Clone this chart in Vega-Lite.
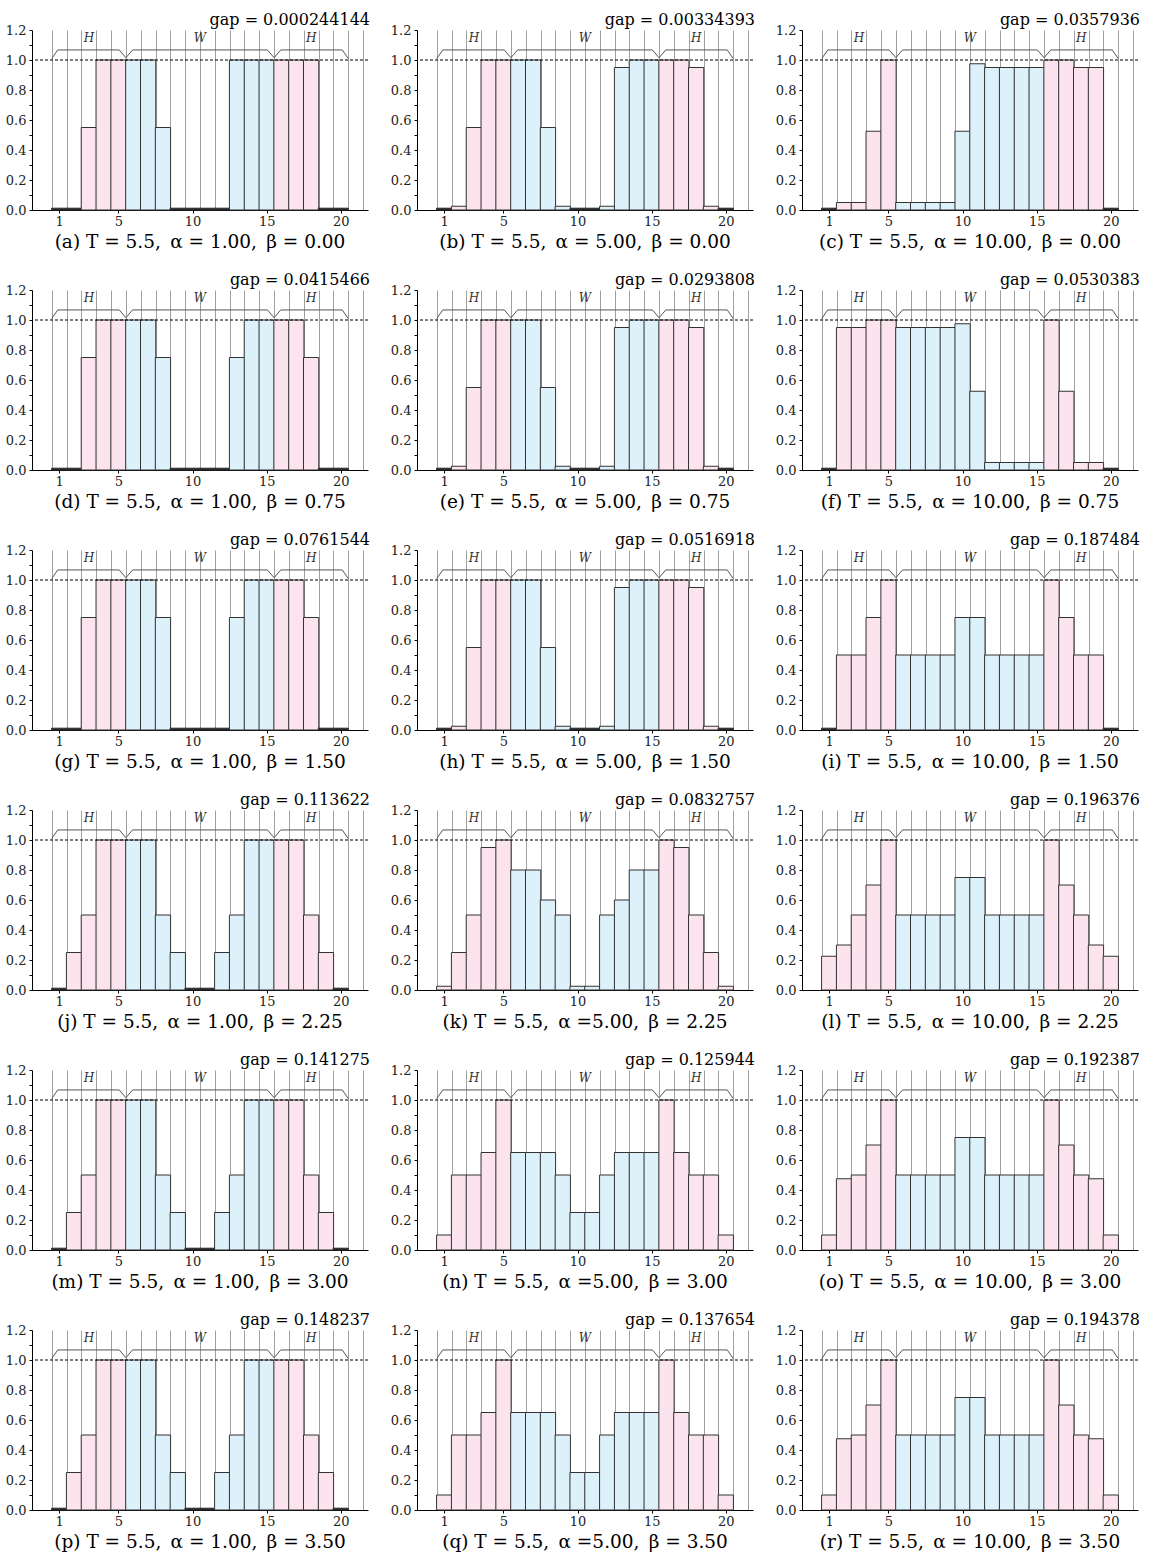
{
"$schema":"https://vega.github.io/schema/vega-lite/v6.json",
"padding":{"left":5,"top":12,"right":5,"bottom":5},
"data":{"values":[
{"p":"a","i":1,"v":0.012},{"p":"a","i":2,"v":0.012},{"p":"a","i":3,"v":0.55},{"p":"a","i":4,"v":1},{"p":"a","i":5,"v":1},{"p":"a","i":6,"v":1},{"p":"a","i":7,"v":1},{"p":"a","i":8,"v":0.55},{"p":"a","i":9,"v":0.012},{"p":"a","i":10,"v":0.012},{"p":"a","i":11,"v":0.012},{"p":"a","i":12,"v":0.012},{"p":"a","i":13,"v":1},{"p":"a","i":14,"v":1},{"p":"a","i":15,"v":1},{"p":"a","i":16,"v":1},{"p":"a","i":17,"v":1},{"p":"a","i":18,"v":1},{"p":"a","i":19,"v":0.012},{"p":"a","i":20,"v":0.012},
{"p":"b","i":1,"v":0.012},{"p":"b","i":2,"v":0.025},{"p":"b","i":3,"v":0.55},{"p":"b","i":4,"v":1},{"p":"b","i":5,"v":1},{"p":"b","i":6,"v":1},{"p":"b","i":7,"v":1},{"p":"b","i":8,"v":0.55},{"p":"b","i":9,"v":0.025},{"p":"b","i":10,"v":0.012},{"p":"b","i":11,"v":0.012},{"p":"b","i":12,"v":0.025},{"p":"b","i":13,"v":0.95},{"p":"b","i":14,"v":1},{"p":"b","i":15,"v":1},{"p":"b","i":16,"v":1},{"p":"b","i":17,"v":1},{"p":"b","i":18,"v":0.95},{"p":"b","i":19,"v":0.025},{"p":"b","i":20,"v":0.012},
{"p":"c","i":1,"v":0.012},{"p":"c","i":2,"v":0.05},{"p":"c","i":3,"v":0.05},{"p":"c","i":4,"v":0.525},{"p":"c","i":5,"v":1},{"p":"c","i":6,"v":0.05},{"p":"c","i":7,"v":0.05},{"p":"c","i":8,"v":0.05},{"p":"c","i":9,"v":0.05},{"p":"c","i":10,"v":0.525},{"p":"c","i":11,"v":0.975},{"p":"c","i":12,"v":0.95},{"p":"c","i":13,"v":0.95},{"p":"c","i":14,"v":0.95},{"p":"c","i":15,"v":0.95},{"p":"c","i":16,"v":1},{"p":"c","i":17,"v":1},{"p":"c","i":18,"v":0.95},{"p":"c","i":19,"v":0.95},{"p":"c","i":20,"v":0.012},
{"p":"d","i":1,"v":0.012},{"p":"d","i":2,"v":0.012},{"p":"d","i":3,"v":0.75},{"p":"d","i":4,"v":1},{"p":"d","i":5,"v":1},{"p":"d","i":6,"v":1},{"p":"d","i":7,"v":1},{"p":"d","i":8,"v":0.75},{"p":"d","i":9,"v":0.012},{"p":"d","i":10,"v":0.012},{"p":"d","i":11,"v":0.012},{"p":"d","i":12,"v":0.012},{"p":"d","i":13,"v":0.75},{"p":"d","i":14,"v":1},{"p":"d","i":15,"v":1},{"p":"d","i":16,"v":1},{"p":"d","i":17,"v":1},{"p":"d","i":18,"v":0.75},{"p":"d","i":19,"v":0.012},{"p":"d","i":20,"v":0.012},
{"p":"e","i":1,"v":0.012},{"p":"e","i":2,"v":0.025},{"p":"e","i":3,"v":0.55},{"p":"e","i":4,"v":1},{"p":"e","i":5,"v":1},{"p":"e","i":6,"v":1},{"p":"e","i":7,"v":1},{"p":"e","i":8,"v":0.55},{"p":"e","i":9,"v":0.025},{"p":"e","i":10,"v":0.012},{"p":"e","i":11,"v":0.012},{"p":"e","i":12,"v":0.025},{"p":"e","i":13,"v":0.95},{"p":"e","i":14,"v":1},{"p":"e","i":15,"v":1},{"p":"e","i":16,"v":1},{"p":"e","i":17,"v":1},{"p":"e","i":18,"v":0.95},{"p":"e","i":19,"v":0.025},{"p":"e","i":20,"v":0.012},
{"p":"f","i":1,"v":0.012},{"p":"f","i":2,"v":0.95},{"p":"f","i":3,"v":0.95},{"p":"f","i":4,"v":1},{"p":"f","i":5,"v":1},{"p":"f","i":6,"v":0.95},{"p":"f","i":7,"v":0.95},{"p":"f","i":8,"v":0.95},{"p":"f","i":9,"v":0.95},{"p":"f","i":10,"v":0.975},{"p":"f","i":11,"v":0.525},{"p":"f","i":12,"v":0.05},{"p":"f","i":13,"v":0.05},{"p":"f","i":14,"v":0.05},{"p":"f","i":15,"v":0.05},{"p":"f","i":16,"v":1},{"p":"f","i":17,"v":0.525},{"p":"f","i":18,"v":0.05},{"p":"f","i":19,"v":0.05},{"p":"f","i":20,"v":0.012},
{"p":"g","i":1,"v":0.012},{"p":"g","i":2,"v":0.012},{"p":"g","i":3,"v":0.75},{"p":"g","i":4,"v":1},{"p":"g","i":5,"v":1},{"p":"g","i":6,"v":1},{"p":"g","i":7,"v":1},{"p":"g","i":8,"v":0.75},{"p":"g","i":9,"v":0.012},{"p":"g","i":10,"v":0.012},{"p":"g","i":11,"v":0.012},{"p":"g","i":12,"v":0.012},{"p":"g","i":13,"v":0.75},{"p":"g","i":14,"v":1},{"p":"g","i":15,"v":1},{"p":"g","i":16,"v":1},{"p":"g","i":17,"v":1},{"p":"g","i":18,"v":0.75},{"p":"g","i":19,"v":0.012},{"p":"g","i":20,"v":0.012},
{"p":"h","i":1,"v":0.012},{"p":"h","i":2,"v":0.025},{"p":"h","i":3,"v":0.55},{"p":"h","i":4,"v":1},{"p":"h","i":5,"v":1},{"p":"h","i":6,"v":1},{"p":"h","i":7,"v":1},{"p":"h","i":8,"v":0.55},{"p":"h","i":9,"v":0.025},{"p":"h","i":10,"v":0.012},{"p":"h","i":11,"v":0.012},{"p":"h","i":12,"v":0.025},{"p":"h","i":13,"v":0.95},{"p":"h","i":14,"v":1},{"p":"h","i":15,"v":1},{"p":"h","i":16,"v":1},{"p":"h","i":17,"v":1},{"p":"h","i":18,"v":0.95},{"p":"h","i":19,"v":0.025},{"p":"h","i":20,"v":0.012},
{"p":"i","i":1,"v":0.012},{"p":"i","i":2,"v":0.5},{"p":"i","i":3,"v":0.5},{"p":"i","i":4,"v":0.75},{"p":"i","i":5,"v":1},{"p":"i","i":6,"v":0.5},{"p":"i","i":7,"v":0.5},{"p":"i","i":8,"v":0.5},{"p":"i","i":9,"v":0.5},{"p":"i","i":10,"v":0.75},{"p":"i","i":11,"v":0.75},{"p":"i","i":12,"v":0.5},{"p":"i","i":13,"v":0.5},{"p":"i","i":14,"v":0.5},{"p":"i","i":15,"v":0.5},{"p":"i","i":16,"v":1},{"p":"i","i":17,"v":0.75},{"p":"i","i":18,"v":0.5},{"p":"i","i":19,"v":0.5},{"p":"i","i":20,"v":0.012},
{"p":"j","i":1,"v":0.012},{"p":"j","i":2,"v":0.25},{"p":"j","i":3,"v":0.5},{"p":"j","i":4,"v":1},{"p":"j","i":5,"v":1},{"p":"j","i":6,"v":1},{"p":"j","i":7,"v":1},{"p":"j","i":8,"v":0.5},{"p":"j","i":9,"v":0.25},{"p":"j","i":10,"v":0.012},{"p":"j","i":11,"v":0.012},{"p":"j","i":12,"v":0.25},{"p":"j","i":13,"v":0.5},{"p":"j","i":14,"v":1},{"p":"j","i":15,"v":1},{"p":"j","i":16,"v":1},{"p":"j","i":17,"v":1},{"p":"j","i":18,"v":0.5},{"p":"j","i":19,"v":0.25},{"p":"j","i":20,"v":0.012},
{"p":"k","i":1,"v":0.025},{"p":"k","i":2,"v":0.25},{"p":"k","i":3,"v":0.5},{"p":"k","i":4,"v":0.95},{"p":"k","i":5,"v":1},{"p":"k","i":6,"v":0.8},{"p":"k","i":7,"v":0.8},{"p":"k","i":8,"v":0.6},{"p":"k","i":9,"v":0.5},{"p":"k","i":10,"v":0.025},{"p":"k","i":11,"v":0.025},{"p":"k","i":12,"v":0.5},{"p":"k","i":13,"v":0.6},{"p":"k","i":14,"v":0.8},{"p":"k","i":15,"v":0.8},{"p":"k","i":16,"v":1},{"p":"k","i":17,"v":0.95},{"p":"k","i":18,"v":0.5},{"p":"k","i":19,"v":0.25},{"p":"k","i":20,"v":0.025},
{"p":"l","i":1,"v":0.225},{"p":"l","i":2,"v":0.3},{"p":"l","i":3,"v":0.5},{"p":"l","i":4,"v":0.7},{"p":"l","i":5,"v":1},{"p":"l","i":6,"v":0.5},{"p":"l","i":7,"v":0.5},{"p":"l","i":8,"v":0.5},{"p":"l","i":9,"v":0.5},{"p":"l","i":10,"v":0.75},{"p":"l","i":11,"v":0.75},{"p":"l","i":12,"v":0.5},{"p":"l","i":13,"v":0.5},{"p":"l","i":14,"v":0.5},{"p":"l","i":15,"v":0.5},{"p":"l","i":16,"v":1},{"p":"l","i":17,"v":0.7},{"p":"l","i":18,"v":0.5},{"p":"l","i":19,"v":0.3},{"p":"l","i":20,"v":0.225},
{"p":"m","i":1,"v":0.012},{"p":"m","i":2,"v":0.25},{"p":"m","i":3,"v":0.5},{"p":"m","i":4,"v":1},{"p":"m","i":5,"v":1},{"p":"m","i":6,"v":1},{"p":"m","i":7,"v":1},{"p":"m","i":8,"v":0.5},{"p":"m","i":9,"v":0.25},{"p":"m","i":10,"v":0.012},{"p":"m","i":11,"v":0.012},{"p":"m","i":12,"v":0.25},{"p":"m","i":13,"v":0.5},{"p":"m","i":14,"v":1},{"p":"m","i":15,"v":1},{"p":"m","i":16,"v":1},{"p":"m","i":17,"v":1},{"p":"m","i":18,"v":0.5},{"p":"m","i":19,"v":0.25},{"p":"m","i":20,"v":0.012},
{"p":"n","i":1,"v":0.1},{"p":"n","i":2,"v":0.5},{"p":"n","i":3,"v":0.5},{"p":"n","i":4,"v":0.65},{"p":"n","i":5,"v":1},{"p":"n","i":6,"v":0.65},{"p":"n","i":7,"v":0.65},{"p":"n","i":8,"v":0.65},{"p":"n","i":9,"v":0.5},{"p":"n","i":10,"v":0.25},{"p":"n","i":11,"v":0.25},{"p":"n","i":12,"v":0.5},{"p":"n","i":13,"v":0.65},{"p":"n","i":14,"v":0.65},{"p":"n","i":15,"v":0.65},{"p":"n","i":16,"v":1},{"p":"n","i":17,"v":0.65},{"p":"n","i":18,"v":0.5},{"p":"n","i":19,"v":0.5},{"p":"n","i":20,"v":0.1},
{"p":"o","i":1,"v":0.1},{"p":"o","i":2,"v":0.475},{"p":"o","i":3,"v":0.5},{"p":"o","i":4,"v":0.7},{"p":"o","i":5,"v":1},{"p":"o","i":6,"v":0.5},{"p":"o","i":7,"v":0.5},{"p":"o","i":8,"v":0.5},{"p":"o","i":9,"v":0.5},{"p":"o","i":10,"v":0.75},{"p":"o","i":11,"v":0.75},{"p":"o","i":12,"v":0.5},{"p":"o","i":13,"v":0.5},{"p":"o","i":14,"v":0.5},{"p":"o","i":15,"v":0.5},{"p":"o","i":16,"v":1},{"p":"o","i":17,"v":0.7},{"p":"o","i":18,"v":0.5},{"p":"o","i":19,"v":0.475},{"p":"o","i":20,"v":0.1},
{"p":"p","i":1,"v":0.012},{"p":"p","i":2,"v":0.25},{"p":"p","i":3,"v":0.5},{"p":"p","i":4,"v":1},{"p":"p","i":5,"v":1},{"p":"p","i":6,"v":1},{"p":"p","i":7,"v":1},{"p":"p","i":8,"v":0.5},{"p":"p","i":9,"v":0.25},{"p":"p","i":10,"v":0.012},{"p":"p","i":11,"v":0.012},{"p":"p","i":12,"v":0.25},{"p":"p","i":13,"v":0.5},{"p":"p","i":14,"v":1},{"p":"p","i":15,"v":1},{"p":"p","i":16,"v":1},{"p":"p","i":17,"v":1},{"p":"p","i":18,"v":0.5},{"p":"p","i":19,"v":0.25},{"p":"p","i":20,"v":0.012},
{"p":"q","i":1,"v":0.1},{"p":"q","i":2,"v":0.5},{"p":"q","i":3,"v":0.5},{"p":"q","i":4,"v":0.65},{"p":"q","i":5,"v":1},{"p":"q","i":6,"v":0.65},{"p":"q","i":7,"v":0.65},{"p":"q","i":8,"v":0.65},{"p":"q","i":9,"v":0.5},{"p":"q","i":10,"v":0.25},{"p":"q","i":11,"v":0.25},{"p":"q","i":12,"v":0.5},{"p":"q","i":13,"v":0.65},{"p":"q","i":14,"v":0.65},{"p":"q","i":15,"v":0.65},{"p":"q","i":16,"v":1},{"p":"q","i":17,"v":0.65},{"p":"q","i":18,"v":0.5},{"p":"q","i":19,"v":0.5},{"p":"q","i":20,"v":0.1},
{"p":"r","i":1,"v":0.1},{"p":"r","i":2,"v":0.475},{"p":"r","i":3,"v":0.5},{"p":"r","i":4,"v":0.7},{"p":"r","i":5,"v":1},{"p":"r","i":6,"v":0.5},{"p":"r","i":7,"v":0.5},{"p":"r","i":8,"v":0.5},{"p":"r","i":9,"v":0.5},{"p":"r","i":10,"v":0.75},{"p":"r","i":11,"v":0.75},{"p":"r","i":12,"v":0.5},{"p":"r","i":13,"v":0.5},{"p":"r","i":14,"v":0.5},{"p":"r","i":15,"v":0.5},{"p":"r","i":16,"v":1},{"p":"r","i":17,"v":0.7},{"p":"r","i":18,"v":0.5},{"p":"r","i":19,"v":0.475},{"p":"r","i":20,"v":0.1},
{"p":"a","gap":"0.000244144"},{"p":"b","gap":"0.00334393"},{"p":"c","gap":"0.0357936"},
{"p":"d","gap":"0.0415466"},{"p":"e","gap":"0.0293808"},{"p":"f","gap":"0.0530383"},
{"p":"g","gap":"0.0761544"},{"p":"h","gap":"0.0516918"},{"p":"i","gap":"0.187484"},
{"p":"j","gap":"0.113622"},{"p":"k","gap":"0.0832757"},{"p":"l","gap":"0.196376"},
{"p":"m","gap":"0.141275"},{"p":"n","gap":"0.125944"},{"p":"o","gap":"0.192387"},
{"p":"p","gap":"0.148237"},{"p":"q","gap":"0.137654"},{"p":"r","gap":"0.194378"}
]},
"facet":{"field":"p","type":"nominal","title":null,
 "header":{"labelOrient":"bottom","labelFont":"DejaVu Serif","labelFontSize":18.5,"labelColor":"#000","labelPadding":5,
 "labelExpr":"'(' + datum.value + ') T = 5.5,\u2002α =' + (indexof('knq', datum.value) >= 0 ? '' : ' ') + ['1.00','5.00','10.00'][indexof('abcdefghijklmnopqr', datum.value) % 3] + ',\u2002β = ' + ['0.00','0.75','1.50','2.25','3.00','3.50'][floor(indexof('abcdefghijklmnopqr', datum.value) / 3)]"}},
"columns":3,
"bounds":"flush",
"spacing":{"column":49,"row":80},
"resolve":{"axis":{"x":"independent","y":"independent"}},
"spec":{
 "width":336,"height":180,
 "layer":[
  {"transform":[{"filter":"isValid(datum.v)"}],
   "mark":{"type":"bar","orient":"vertical","width":15.27,"stroke":"#333","strokeWidth":1},
   "encoding":{
    "x":{"field":"i","type":"quantitative","scale":{"domain":[-0.5,21.5],"nice":false,"zero":false},
      "axis":{"orient":"bottom","values":[1,5,10,15,20],"grid":false,"title":null,"tickSize":3,"labelPadding":2}},
    "y":{"field":"v","type":"quantitative","stack":null,"scale":{"domain":[0,1.2],"nice":false},
      "axis":{"orient":"left","values":[0,0.1,0.2,0.3,0.4,0.5,0.6,0.7,0.8,0.9,1,1.1,1.2],"labelExpr":"round(datum.value*10) % 2 == 0 ? format(datum.value, '.1f') : ''","grid":false,"title":null,"tickSize":3,"labelPadding":3}},
    "color":{"field":"i","type":"quantitative","condition":{"test":"datum.v < 0.02","value":"#1a1a1a"},"scale":{"type":"threshold","domain":[5.5,15.5],"range":["#fce4ee","#ddf1fa","#fce4ee"]},"legend":null}
   }},
  {"data":{"values":[{"y":1}]},
   "mark":{"type":"rule","strokeDash":[3,2],"color":"#000","strokeWidth":1},
   "encoding":{"y":{"field":"y","type":"quantitative","axis":{"orient":"right","domain":false,"labels":false,"ticks":false,"grid":false,"title":null}}}},
  {"data":{"values":[{"x":0.5,"y":1.01},{"x":0.9,"y":1.067},{"x":5.05,"y":1.067},{"x":5.5,"y":1.015},{"x":5.95,"y":1.067},{"x":15.05,"y":1.067},{"x":15.5,"y":1.015},{"x":15.95,"y":1.067},{"x":20.1,"y":1.067},{"x":20.5,"y":1.01}]},
   "mark":{"type":"line","color":"#555","strokeWidth":1},
   "encoding":{
    "x":{"field":"x","type":"quantitative","axis":{"orient":"top","values":[0.5,1.5,2.5,3.5,4.5,5.5,6.5,7.5,8.5,9.5,10.5,11.5,12.5,13.5,14.5,15.5,16.5,17.5,18.5,19.5,20.5,21.5],"grid":true,"gridColor":"#a0a0a0","gridWidth":1,"labels":false,"ticks":false,"domain":false,"title":null}},
    "y":{"field":"y","type":"quantitative","axis":null}}},
  {"data":{"values":[{"x":3,"y":1.15,"t":"H"},{"x":10.5,"y":1.15,"t":"W"},{"x":18,"y":1.15,"t":"H"}]},
   "mark":{"type":"text","font":"DejaVu Serif","fontStyle":"italic","fontSize":12,"color":"#333","baseline":"middle"},
   "encoding":{"x":{"field":"x","type":"quantitative","axis":null},"y":{"field":"y","type":"quantitative","axis":null},"text":{"field":"t"}}},
  {"transform":[{"filter":"isValid(datum.gap)"},{"calculate":"'gap = ' + datum.gap","as":"label"}],
   "mark":{"type":"text","font":"DejaVu Serif","fontSize":16,"color":"#000","align":"right","baseline":"alphabetic","dx":7,"dy":-5},
   "encoding":{"x":{"datum":21.5,"axis":null},"y":{"datum":1.2,"axis":null},"text":{"field":"label"}}}
 ]
},
"config":{
 "font":"DejaVu Serif",
 "view":{"stroke":null},
 "axis":{"labelFont":"DejaVu Serif","labelFontSize":13,"labelColor":"#222","domainColor":"#000","tickColor":"#000","domainWidth":1}
}
}
